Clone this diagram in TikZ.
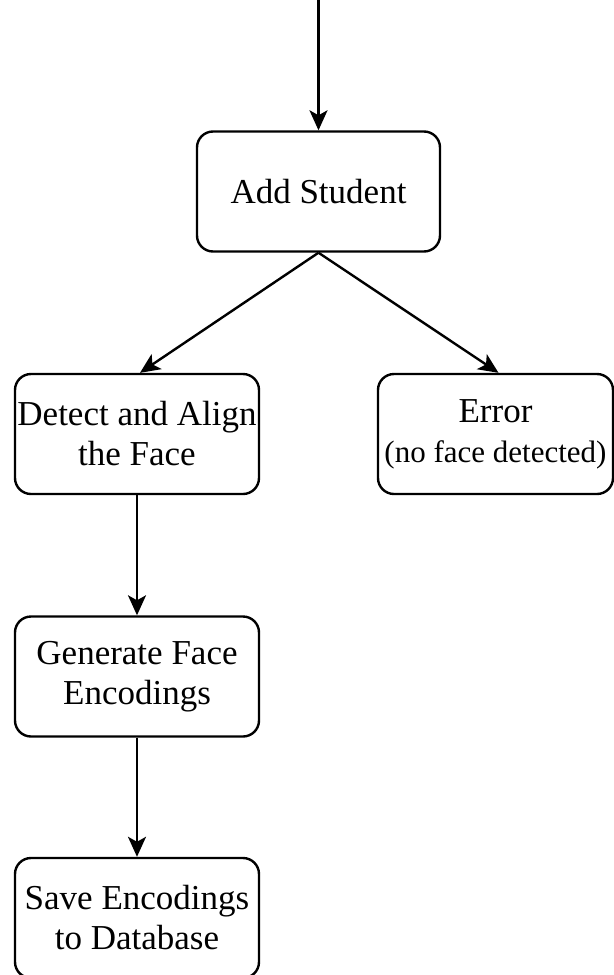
\documentclass[tikz,border=0pt]{standalone}
\usepackage{fontspec}
\setmainfont{Liberation Serif}
\usetikzlibrary{calc, positioning, arrows.meta}

\tikzset{
    stepbox/.style={draw, line width=1.2pt, rounded corners=8pt, minimum width=122pt, minimum height=60pt,
        align=center, inner sep=0pt, font=\fontsize{17.5}{20}\selectfont},
    flow/.style={line width=1.2pt, -{Stealth[length=10pt, width=9pt, inset=2.5pt]}}
}

\begin{document}
\begin{tikzpicture}[x=0.5pt, y=-0.5pt]
            \useasboundingbox (0, 0) rectangle (614, 975);
            \coordinate (start) at (318.5, 0);
            \node[stepbox, minimum width=121.5pt] (add) at (318.5, 191.5) {Add Student};
            \node[stepbox] (detect) at (137, 434) {Detect and Align\\the Face};
            \node[stepbox, minimum width=117.5pt] (error) at (495.5, 434) {Error\\{\fontsize{15.5}{20}\selectfont (no face detected)}};
            \node[stepbox] (generate) at (137, 676.5) {Generate Face\\Encodings};
            \node[stepbox] (save) at (137, 918) {Save Encodings\\to Database};
            \draw[flow] (start) -- (add);
            \draw[flow] (add.south) -- ([xshift=1.5pt]detect.north);
            \draw[flow] (add.south) -- ([xshift=1.5pt]error.north);
            \draw[flow] (detect) -- (generate);
            \draw[flow] (generate) -- (save);
        \end{tikzpicture}
\end{document}
